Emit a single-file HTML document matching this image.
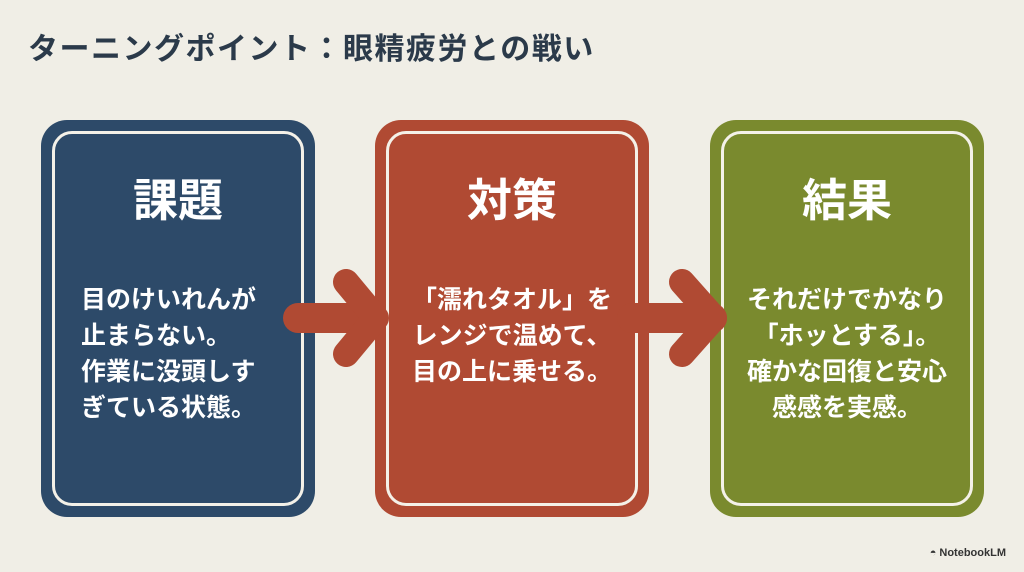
<!DOCTYPE html>
<html><head><meta charset="utf-8"><style>
body{margin:0;width:1024px;height:572px;background:#f0eee6;position:relative;overflow:hidden;font-family:"Liberation Sans","Noto Sans CJK JP",sans-serif;}
.t{position:absolute;left:28px;top:24px;font-size:30px;font-weight:bold;color:#2b3a4a;letter-spacing:1.5px}
.c{position:absolute;top:120px;width:274px;height:397px;border-radius:26px}
.c .in{position:absolute;left:11px;top:11px;right:11px;bottom:11px;border:3px solid #f4f1e8;border-radius:20px}
.h{position:absolute;top:44px;width:100%;text-align:center;color:#fff;font-weight:bold;font-size:45px}
.b{position:absolute;top:162px;width:100%;text-align:center;color:#fff;font-weight:bold;font-size:25px;line-height:36px}
.logo{position:absolute;right:18px;top:547px;font-size:11px;font-weight:bold;color:#333}
</style></head><body>
<div class="t">ターニングポイント：眼精疲労との戦い</div>
<div class="c" style="left:41px;background:#2d4a69"><div class="in"></div><div class="h">課題</div><div class="b" style="text-align:left;padding-left:40px;box-sizing:border-box">目のけいれんが<br>止まらない。<br>作業に没頭しす<br>ぎている状態。</div></div>
<div class="c" style="left:375px;background:#b04a33"><div class="in"></div><div class="h">対策</div><div class="b">「濡れタオル」を<br>レンジで温めて、<br>目の上に乗せる。</div></div>
<div class="c" style="left:710px;background:#7a8a2e"><div class="in"></div><div class="h">結果</div><div class="b">それだけでかなり<br>「ホッとする」。<br>確かな回復と安心<br>感感を実感。</div></div>
<svg width="1024" height="572" style="position:absolute;left:0;top:0">
<g stroke="#b04a33" stroke-linecap="round" stroke-linejoin="round" fill="none">
<line x1="298" y1="318" x2="372" y2="318" stroke-width="30"/>
<polyline points="346,282 376,318 346,354" stroke-width="26"/>
<line x1="632" y1="318" x2="712" y2="318" stroke-width="30"/>
<polyline points="682,282 714,318 682,354" stroke-width="26"/>
</g></svg>
<div class="logo">◓ NotebookLM</div>
</body></html>
